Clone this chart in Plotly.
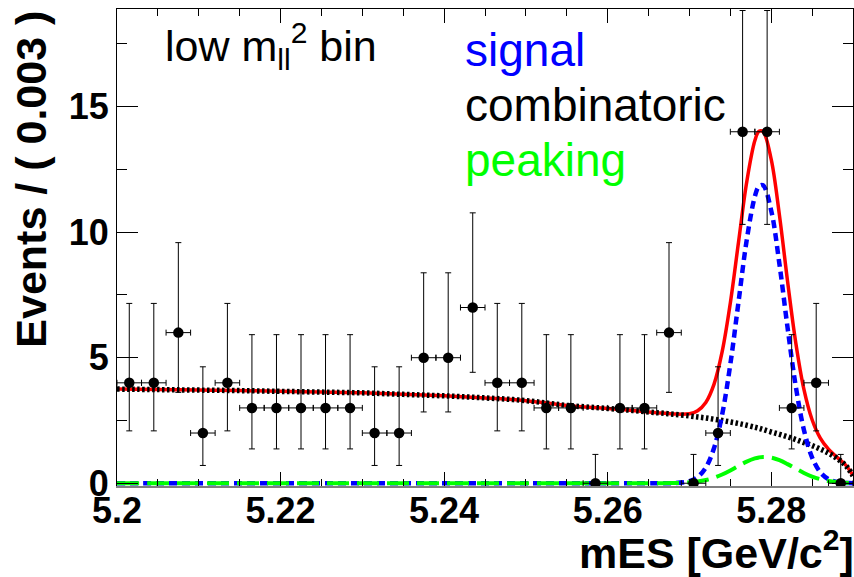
import plotly.graph_objects as go

# ---- data ----
bin_centers = [5.2015 + 0.003 * i for i in range(30)]
counts = [4, 4, 6, 2, 4, 3, 3, 3, 3, 3, 2, 2, 5, 5, 7, 4, 4, 3, 3, 0, 3, 3, 6, 0, 2, 14, 14, 3, 4, 0]
# Poisson interval bounds (lower, upper) for each bin, as drawn
interval_by_count = {0: (0.0, 1.148), 2: (0.708, 4.638), 3: (1.367, 5.918), 4: (2.086, 7.163),
                     5: (2.840, 8.382), 6: (3.620, 9.584), 7: (4.419, 10.77), 14: (10.31, 18.83)}
y_low = [interval_by_count[c][0] for c in counts]
y_high = [interval_by_count[c][1] for c in counts]
half_bin = 0.0015

curve_x = [5.2, 5.205, 5.21, 5.215, 5.22, 5.225, 5.23, 5.235, 5.24, 5.245, 5.25, 5.255, 5.26,
           5.263, 5.266, 5.268, 5.270, 5.271, 5.272, 5.273, 5.274, 5.275, 5.276, 5.277, 5.278,
           5.2785, 5.279, 5.280, 5.281, 5.282, 5.283, 5.284, 5.285, 5.286, 5.287, 5.288, 5.289,
           5.2895, 5.29]
combinatoric = [3.75, 3.73, 3.71, 3.69, 3.66, 3.63, 3.60, 3.54, 3.48, 3.40, 3.29, 3.10, 2.98,
                2.90, 2.81, 2.75, 2.68, 2.64, 2.60, 2.55, 2.50, 2.44, 2.38, 2.31, 2.23,
                2.19, 2.14, 2.04, 1.95, 1.85, 1.74, 1.62, 1.50, 1.36, 1.20, 1.00, 0.74,
                0.55, 0.30]
signal = [0, 0, 0, 0, 0, 0, 0, 0, 0, 0, 0, 0, 0,
          0, 0.0003, 0.007, 0.085, 0.246, 0.623, 1.392, 2.738, 4.739, 7.218, 9.678, 11.424,
          11.83, 11.87, 10.857, 8.739, 6.194, 3.864, 2.122, 1.025, 0.436, 0.163, 0.054, 0.016,
          0.008, 0.004]
peaking = [0, 0, 0, 0, 0, 0, 0, 0, 0, 0, 0, 0, 0,
           0, 0.001, 0.006, 0.033, 0.068, 0.127, 0.219, 0.348, 0.511, 0.691, 0.862, 0.990,
           1.029, 1.048, 1.023, 0.920, 0.762, 0.583, 0.410, 0.266, 0.159, 0.088, 0.045, 0.021,
           0.014, 0.009]
total = [3.75, 3.73, 3.71, 3.69, 3.66, 3.63, 3.60, 3.54, 3.48, 3.40, 3.29, 3.10, 2.98,
         2.90, 2.81, 2.76, 2.77, 2.89, 3.22, 3.94, 5.24, 7.18, 9.60, 11.99, 13.65,
         14.02, 14.01, 12.90, 10.69, 8.04, 5.60, 3.74, 2.53, 1.80, 1.36, 1.05, 0.76,
         0.56, 0.30]

x_ticks = [5.2, 5.22, 5.24, 5.26, 5.28]
x_tick_text = ["5.2", "5.22", "5.24", "5.26", "5.28"]
y_ticks = [0, 5, 10, 15]
y_tick_text = ["0", "5", "10", "15"]

FONT = "Liberation Sans, Arial, Helvetica, sans-serif"

fig = go.Figure()

fig.add_trace(go.Scatter(x=curve_x, y=total, mode="lines", line=dict(color="#ff0000", width=3.5, shape="spline"),
                         hoverinfo="skip"))
fig.add_trace(go.Scatter(x=curve_x, y=combinatoric, mode="lines",
                         line=dict(color="black", width=5.5, dash="2.5px,2.5px", shape="spline"), hoverinfo="skip"))
fig.add_trace(go.Scatter(x=curve_x, y=signal, mode="lines",
                         line=dict(color="#0000ff", width=4.5, dash="8px,5px", shape="spline"), hoverinfo="skip"))
fig.add_trace(go.Scatter(x=curve_x, y=peaking, mode="lines",
                         line=dict(color="#00ff00", width=4, dash="22px,8px", shape="spline"), hoverinfo="skip"))

err_plus = [h - c for h, c in zip(y_high, counts)]
err_minus = [c - l for l, c in zip(y_low, counts)]
fig.add_trace(go.Scatter(
    x=bin_centers, y=counts, mode="markers",
    marker=dict(color="black", size=10.5, symbol="circle"),
    error_y=dict(type="data", symmetric=False, array=err_plus, arrayminus=err_minus,
                 color="black", thickness=1, width=3),
    error_x=dict(type="constant", value=half_bin, color="black", thickness=1, width=3),
))

# dummy trace for top axis
fig.add_trace(go.Scatter(x=[5.2], y=[0], xaxis="x2", mode="markers", marker=dict(opacity=0),
                         hoverinfo="skip", showlegend=False))

tickfont = dict(family=FONT, size=36, color="black", weight="bold")

fig.update_layout(
    width=854, height=577,
    margin=dict(l=117, r=1, t=9, b=91),
    paper_bgcolor="white", plot_bgcolor="white",
    showlegend=False,
    xaxis=dict(range=[5.2, 5.29], tickvals=x_ticks, ticktext=x_tick_text, ticks="inside", ticklen=14,
               tickcolor="black", tickwidth=1, showgrid=False, zeroline=False,
               showline=True, linecolor="#7f7f7f", linewidth=2, ticklabelstandoff=-8,
               minor=dict(dtick=0.005, tick0=5.2, ticks="inside", ticklen=7, tickcolor="black", showgrid=False),
               tickfont=tickfont),
    xaxis2=dict(range=[5.2, 5.29], overlaying="x", side="top", anchor="y", tickvals=x_ticks, ticks="inside",
                ticklen=14, tickcolor="black", showticklabels=False, showgrid=False, zeroline=False,
                showline=True, linecolor="black", linewidth=1,
                minor=dict(dtick=0.005, tick0=5.2, ticks="inside", ticklen=7, tickcolor="black", showgrid=False)),
    yaxis=dict(range=[-0.11, 18.89], tickvals=y_ticks, ticktext=y_tick_text, ticks="inside", ticklen=21,
               tickcolor="black", showgrid=False, zeroline=False, showline=True, linecolor="black",
               linewidth=1, mirror="ticks",
               minor=dict(dtick=2.5, tick0=0, ticks="inside", ticklen=10, tickcolor="black", showgrid=False),
               tickfont=tickfont),
)

ann = []
ann.append(dict(text="low m<sub>ll</sub><sup>2</sup> bin", x=0.0624, y=0.922, xref="paper", yref="paper",
                xanchor="left", yanchor="middle", showarrow=False,
                font=dict(family=FONT, size=43, color="black")))
ann.append(dict(text="signal", x=0.4695, y=0.914, xref="paper", yref="paper", xanchor="left", yanchor="middle",
                showarrow=False, font=dict(family=FONT, size=46, color="#0000ff")))
ann.append(dict(text="combinatoric", x=0.4695, y=0.799, xref="paper", yref="paper", xanchor="left",
                yanchor="middle", showarrow=False, font=dict(family=FONT, size=46, color="black")))
ann.append(dict(text="peaking", x=0.4695, y=0.683, xref="paper", yref="paper", xanchor="left", yanchor="middle",
                showarrow=False, font=dict(family=FONT, size=46, color="#00ff00")))
ann.append(dict(text="mES [GeV/c<sup>2</sup>]", x=1.004, y=-0.135, xref="paper", yref="paper", xanchor="right",
                yanchor="middle", showarrow=False, font=dict(family=FONT, size=43, color="black", weight="bold")))
ann.append(dict(text="Events / ( 0.003 )", x=-0.118, y=1.0, xref="paper", yref="paper", xanchor="center",
                yanchor="top", textangle=-90, showarrow=False,
                font=dict(family=FONT, size=43, color="black", weight="bold")))
fig.update_layout(annotations=ann)

fig.write_html("out.html")
